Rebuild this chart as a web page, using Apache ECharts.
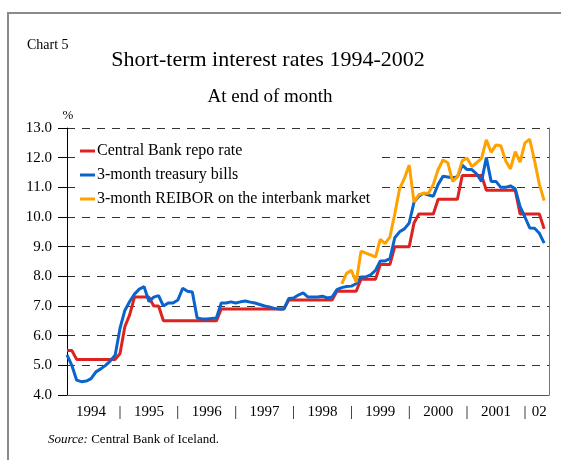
<!DOCTYPE html>
<html>
<head>
<meta charset="utf-8">
<script src="https://cdn.jsdelivr.net/npm/echarts@6/dist/echarts.min.js"></script>
<style>
  html, body { margin: 0; padding: 0; background: #fff; }
  #chart { width: 561px; height: 460px; }
</style>
</head>
<body>
<div id="chart"></div>
<script>
const FONT = "'Liberation Serif', 'Times New Roman', serif";

// month categories, Feb 1994 .. Jun 2002 (last slot closes the axis)
const months = [];
for (let k = 0; k < 101; k++) {
  const m = (1 + k) % 12 + 1;
  const y = 1994 + Math.floor((1 + k) / 12);
  months.push(y + '-' + (m < 10 ? '0' + m : m));
}

const seriesNames = [
  'Central Bank repo rate',
  '3-month treasury bills',
  '3-month REIBOR on the interbank market'
];

// end of month, %
const repoRate = [
  5.5, 5.5, 5.2, 5.2, 5.2, 5.2, 5.2, 5.2, 5.2, 5.2, 5.2, 5.4,
  6.3, 6.7, 7.3, 7.3, 7.3, 7.3, 7.0, 7.0, 6.5, 6.5, 6.5, 6.5,
  6.5, 6.5, 6.5, 6.5, 6.5, 6.5, 6.5, 6.5, 6.9, 6.9, 6.9, 6.9,
  6.9, 6.9, 6.9, 6.9, 6.9, 6.9, 6.9, 6.9, 6.9, 6.9, 7.2, 7.2,
  7.2, 7.2, 7.2, 7.2, 7.2, 7.2, 7.2, 7.2, 7.5, 7.5, 7.5, 7.5,
  7.5, 7.9, 7.9, 7.9, 7.9, 8.4, 8.4, 8.4, 9.0, 9.0, 9.0, 9.0,
  9.8, 10.1, 10.1, 10.1, 10.1, 10.6, 10.6, 10.6, 10.6, 10.6, 11.4, 11.4,
  11.4, 11.4, 11.4, 10.9, 10.9, 10.9, 10.9, 10.9, 10.9, 10.9, 10.1, 10.1,
  10.1, 10.1, 10.1, 9.6
];

const treasuryBills = [
  5.35, 5.0, 4.5, 4.45, 4.47, 4.55, 4.78, 4.88, 5.0, 5.15, 5.35, 6.25,
  6.85, 7.15, 7.4, 7.57, 7.65, 7.15, 7.3, 7.35, 7.0, 7.1, 7.1, 7.2,
  7.6, 7.5, 7.47, 6.6, 6.56, 6.56, 6.58, 6.6, 7.1, 7.1, 7.14, 7.1,
  7.14, 7.17, 7.13, 7.1, 7.05, 7.0, 6.97, 6.92, 6.9, 6.9, 7.25, 7.27,
  7.37, 7.44, 7.3, 7.3, 7.3, 7.33, 7.27, 7.3, 7.55, 7.62, 7.66, 7.67,
  7.75, 7.98, 7.98, 8.05, 8.2, 8.52, 8.52, 8.6, 9.3, 9.5, 9.6, 9.8,
  10.5, 10.7, 10.8, 10.74, 10.7, 11.1, 11.37, 11.35, 11.32, 11.35, 11.75, 11.6,
  11.6, 11.45, 11.2, 12.0, 11.2, 11.2, 11.0, 11.0, 11.05, 10.95, 10.35, 10.0,
  9.63, 9.62, 9.45, 9.12
];

const reibor = [
  null, null, null, null, null, null, null, null, null, null, null, null,
  null, null, null, null, null, null, null, null, null, null, null, null,
  null, null, null, null, null, null, null, null, null, null, null, null,
  null, null, null, null, null, null, null, null, null, null, null, null,
  null, null, null, null, null, null, null, null, null, 7.75, 8.1, 8.2,
  7.8, 8.85, 8.78, 8.72, 8.65, 9.25, 9.1, 9.33, 10.1, 10.95, 11.3, 11.75,
  10.5, 10.75, 10.8, 10.8, 11.1, 11.6, 11.92, 11.83, 11.2, 11.35, 11.9, 11.98,
  11.7, 11.83, 11.98, 12.6, 12.18, 12.43, 12.4, 11.9, 11.62, 12.2, 11.85, 12.5,
  12.62, 11.9, 11.1, 10.55
];

function xLabel(value) {
  if (value === '2002-04') return '02';
  const mm = value.slice(5);
  if (mm === '01') return '|';
  if (mm === '07') return value.slice(0, 4);
  return '';
}

const chart = echarts.init(document.getElementById('chart'), null, { renderer: 'canvas' });

chart.setOption({
  animation: false,
  color: ['#dc2320', '#0b63cc', '#ffa200'],
  textStyle: { fontFamily: FONT },
  grid: { left: 67, right: 12, top: 128, bottom: 65, outerBoundsMode: 'none' },
  legend: {
    orient: 'vertical',
    left: 75,
    top: 135,
    padding: [8, 6, 8, 5],
    itemGap: 8,
    itemWidth: 15,
    itemHeight: 3,
    icon: 'rect',
    backgroundColor: '#fff',
    itemStyle: { borderWidth: 0 },
    textStyle: { fontFamily: FONT, fontSize: 16, color: '#000', padding: [0, 0, 0, -3] },
    data: seriesNames
  },
  xAxis: {
    type: 'category',
    data: months,
    boundaryGap: false,
    axisLine: { lineStyle: { color: '#555', width: 1 } },
    axisTick: { show: false },
    axisLabel: {
      interval: 0,
      margin: 10,
      fontFamily: FONT,
      fontSize: 15,
      color: '#000',
      formatter: xLabel
    },
    splitLine: { show: false }
  },
  yAxis: [{
    type: 'value',
    min: 4,
    max: 13,
    interval: 1,
    axisLine: { show: true, lineStyle: { color: '#000', width: 1 } },
    axisTick: { show: true, length: 9, lineStyle: { color: '#000' } },
    axisLabel: {
      margin: 15,
      fontFamily: FONT,
      fontSize: 15,
      color: '#000',
      formatter: v => v.toFixed(1)
    },
    splitLine: { show: true, lineStyle: { type: [8, 7], color: '#333', width: 1 } }
  }, {
    type: 'value',
    position: 'right',
    min: 4,
    max: 13,
    interval: 1,
    axisLine: { show: true, lineStyle: { color: '#777', width: 1 } },
    axisTick: { show: false },
    axisLabel: { show: false },
    splitLine: { show: false }
  }],
  series: [
    { name: seriesNames[0], type: 'line', data: repoRate, symbol: 'none', lineStyle: { width: 3 } },
    { name: seriesNames[1], type: 'line', data: treasuryBills, symbol: 'none', lineStyle: { width: 3 } },
    { name: seriesNames[2], type: 'line', data: reibor, symbol: 'none', lineStyle: { width: 3 } }
  ],
  graphic: [
    { type: 'rect', shape: { x: 8, y: 13, width: 700, height: 600 },
      style: { fill: 'none', stroke: '#8a8a8a', lineWidth: 2 }, silent: true },
    { type: 'text', x: 27, y: 45,
      style: { text: 'Chart 5', fontFamily: FONT, fontSize: 14, fill: '#000', align: 'left', verticalAlign: 'middle' } },
    { type: 'text', x: 268, y: 60,
      style: { text: 'Short-term interest rates 1994-2002', fontFamily: FONT, fontSize: 22, fill: '#000', align: 'center', verticalAlign: 'middle' } },
    { type: 'text', x: 270, y: 97,
      style: { text: 'At end of month', fontFamily: FONT, fontSize: 19, fill: '#000', align: 'center', verticalAlign: 'middle' } },
    { type: 'text', x: 68, y: 116,
      style: { text: '%', fontFamily: FONT, fontSize: 13, fill: '#000', align: 'center', verticalAlign: 'middle' } },
    { type: 'text', x: 48, y: 440,
      style: {
        text: '{i|Source:} Central Bank of Iceland.',
        fontFamily: FONT, fontSize: 13, fill: '#000', align: 'left', verticalAlign: 'middle',
        rich: { i: { fontFamily: FONT, fontSize: 13, fontStyle: 'italic' } }
      } }
  ]
});
</script>
</body>
</html>
